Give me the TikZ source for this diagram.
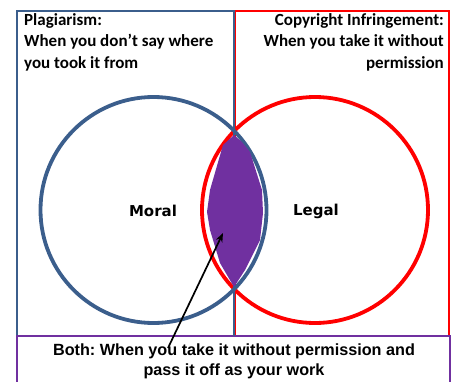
\documentclass[tikz,border=0pt]{standalone}
\usepackage{fontspec}
\setmainfont{Carlito}
\newfontfamily\armfont{Liberation Sans}
\newfontfamily\geofont{DejaVu Sans}
\usetikzlibrary{arrows.meta}
\definecolor{oblue}{HTML}{3B5E8C}
\definecolor{ored}{HTML}{FF0000}
\definecolor{opurple}{HTML}{7030A0}
\frenchspacing
\tikzset{
  frame/.style={line width=1.6pt},
  ring/.style={line width=3.8pt},
  toptext/.style={font=\fontsize{17}{21.5}\selectfont\bfseries, inner sep=0pt},
  circlabel/.style={font=\geofont\fontsize{15}{18}\selectfont\bfseries, inner sep=0pt},
  bottext/.style={font=\armfont\fontsize{16.2}{20}\selectfont\bfseries, align=center, inner sep=0pt},
}
\begin{document}
\begin{tikzpicture}[x=1pt,y=-1pt]
\useasboundingbox (0,0) rectangle (453,381);
\begin{scope}
\clip (0,0) rectangle (453,381);
% frames
\draw[frame, ored] (235,11) rectangle (449,336);
\draw[frame, oblue] (17,11) rectangle (234,336);
\draw[frame, opurple] (17,336) rectangle (450,395);
% circles
\draw[ring, ored] (315,210) circle[radius=113];
\draw[ring, oblue] (153.5,210) circle[radius=113];
\draw[frame, oblue] (234,11) -- (234,336);
% lens
\fill[opurple] (234,135) -- (223,145) -- (210,190) -- (207,212) -- (210,230)
  -- (220,263) -- (234,287) -- (245,270) -- (260,240) -- (263,213)
  -- (262,190) -- (250,152) -- (242,142) -- cycle;
\end{scope}
% texts
\node[toptext, align=left, anchor=north west] (plag) at (24,13)
  {Plagiarism:\\When you don’t say where\\you took it from};
\node[toptext, align=right, anchor=north east] (copy) at (444,13)
  {Copyright Infringement:\\When you take it without\\permission};
\node[circlabel] (moral) at (153,211) {Moral};
\node[circlabel] (legal) at (316,211) {Legal};
\node[bottext, anchor=north] (both) at (234,344)
  {Both: When you take it without permission and\\pass it off as your work};
% arrow
\coordinate (astart) at (168,348);
\coordinate (atip) at (223,233);
\draw[line width=1.7pt, -{Stealth[length=9pt,width=7pt]}] (astart) -- (atip);
\end{tikzpicture}
\end{document}
